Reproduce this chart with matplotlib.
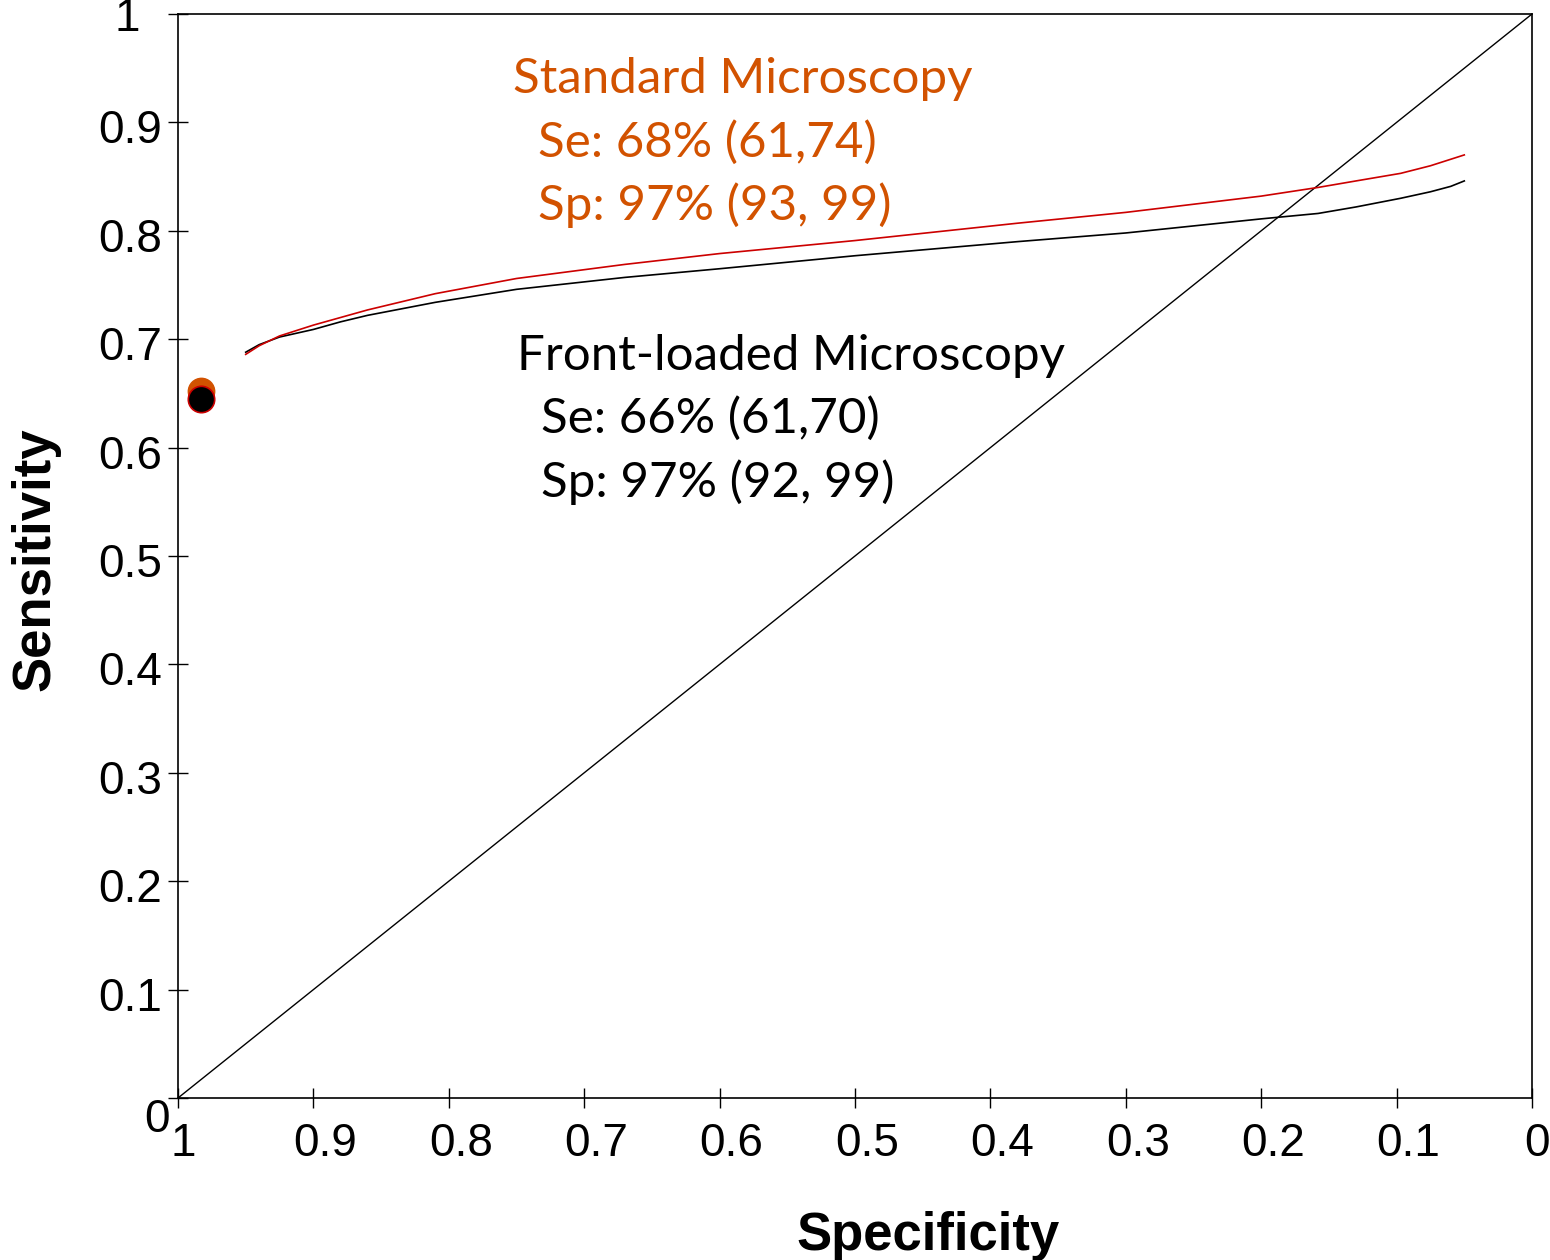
import matplotlib
matplotlib.use('Agg')
import matplotlib.pyplot as plt
from matplotlib.transforms import offset_copy

# ---- data ----
spec_curve = [0.950, 0.940, 0.925, 0.900, 0.880, 0.860, 0.810, 0.750, 0.670, 0.600, 0.500, 0.380, 0.300, 0.200, 0.158, 0.130, 0.097, 0.075, 0.060, 0.050]
sens_standard = [0.686, 0.694, 0.703, 0.713, 0.720, 0.727, 0.742, 0.756, 0.769, 0.779, 0.791, 0.807, 0.817, 0.832, 0.840, 0.846, 0.853, 0.860, 0.866, 0.870]
sens_frontloaded = [0.688, 0.695, 0.702, 0.709, 0.716, 0.722, 0.734, 0.746, 0.757, 0.765, 0.777, 0.790, 0.798, 0.811, 0.816, 0.822, 0.830, 0.836, 0.841, 0.846]

point_spec = [0.983, 0.983]
point_sens = [0.652, 0.645]

diag_x = [1.0, 0.0]
diag_y = [0.0, 1.0]

x_ticks = [1.0, 0.9, 0.8, 0.7, 0.6, 0.5, 0.4, 0.3, 0.2, 0.1, 0.0]
x_tick_labels = ['1', '0.9', '0.8', '0.7', '0.6', '0.5', '0.4', '0.3', '0.2', '0.1', '0']
y_ticks = [0.0, 0.1, 0.2, 0.3, 0.4, 0.5, 0.6, 0.7, 0.8, 0.9, 1.0]
y_tick_labels = ['0', '0.1', '0.2', '0.3', '0.4', '0.5', '0.6', '0.7', '0.8', '0.9', '1']

std_lines = ['Standard Microscopy', 'Se: 68% (61,74)', 'Sp: 97% (93, 99)']
fl_lines = ['Front-loaded Microscopy', 'Se: 66% (61,70)', 'Sp: 97% (92, 99)']

ORANGE = '#D25200'
RED = '#CC0000'

fig = plt.figure(figsize=(15.5, 12.6), dpi=100)
ax = fig.add_axes([178/1550, 1 - 1098/1260, (1532-178)/1550, (1098-14)/1260])

ax.plot(diag_x, diag_y, color='black', lw=1.0)
ax.plot(spec_curve, sens_frontloaded, color='black', lw=1.2)
ax.plot(spec_curve, sens_standard, color=RED, lw=1.2)
ax.plot(point_spec[0], point_sens[0], 'o', ms=19, color=ORANGE, mec=ORANGE, zorder=5)
ax.plot(point_spec[1], point_sens[1], 'o', ms=19, color='black', mec=RED, mew=1.2, zorder=6)

ax.set_xlim(1, 0)
ax.set_ylim(0, 1)
for s in ax.spines.values():
    s.set_linewidth(1.2)

ax.set_xticks(x_ticks)
ax.set_xticklabels(x_tick_labels)
ax.set_yticks(y_ticks)
ax.set_yticklabels(y_tick_labels)
ax.tick_params(direction='inout', length=15, width=1.0, labelsize=33, colors='black')
ax.tick_params(axis='x', pad=10)
ax.tick_params(axis='y', pad=4)
for lab in ax.get_xticklabels() + ax.get_yticklabels():
    lab.set_fontfamily('Liberation Sans')

# per-label offsets to mimic the reference placement
for i, tk in enumerate(ax.xaxis.get_major_ticks()):
    dx = 5 if x_tick_labels[i] in ('1', '0') else 12
    tk.label1.set_transform(offset_copy(tk.label1.get_transform(), fig=fig, x=dx, y=0, units='dots'))
for i, tk in enumerate(ax.yaxis.get_major_ticks()):
    if y_tick_labels[i] == '0':
        dx, dy = 8, -17
    elif y_tick_labels[i] == '1':
        dx, dy = -22, 0
    else:
        dx, dy = 0, -4
    tk.label1.set_transform(offset_copy(tk.label1.get_transform(), fig=fig, x=dx, y=dy, units='dots'))

# annotations
tfont = ['Lato', 'DejaVu Sans']
std_pos = [(0.7524, 0.9271), (0.7339, 0.8681), (0.7339, 0.8100)]
fl_pos = [(0.7494, 0.6716), (0.7317, 0.6135), (0.7317, 0.5544)]
for txt, (x, y) in zip(std_lines, std_pos):
    ax.text(x, y, txt, color=ORANGE, fontsize=35.5, family=tfont, ha='left', va='baseline')
for txt, (x, y) in zip(fl_lines, fl_pos):
    ax.text(x, y, txt, color='black', fontsize=35.5, family=tfont, ha='left', va='baseline')

fig.text(928/1550, 1 - 1250/1260, 'Specificity', fontsize=38, fontweight='bold',
         family='Liberation Sans', ha='center', va='baseline')
fig.text(35/1550, 1 - 559/1260, 'Sensitivity', fontsize=38, fontweight='bold',
         family='Liberation Sans', ha='center', va='center', rotation=90)

fig.savefig('out.png', dpi=100)
